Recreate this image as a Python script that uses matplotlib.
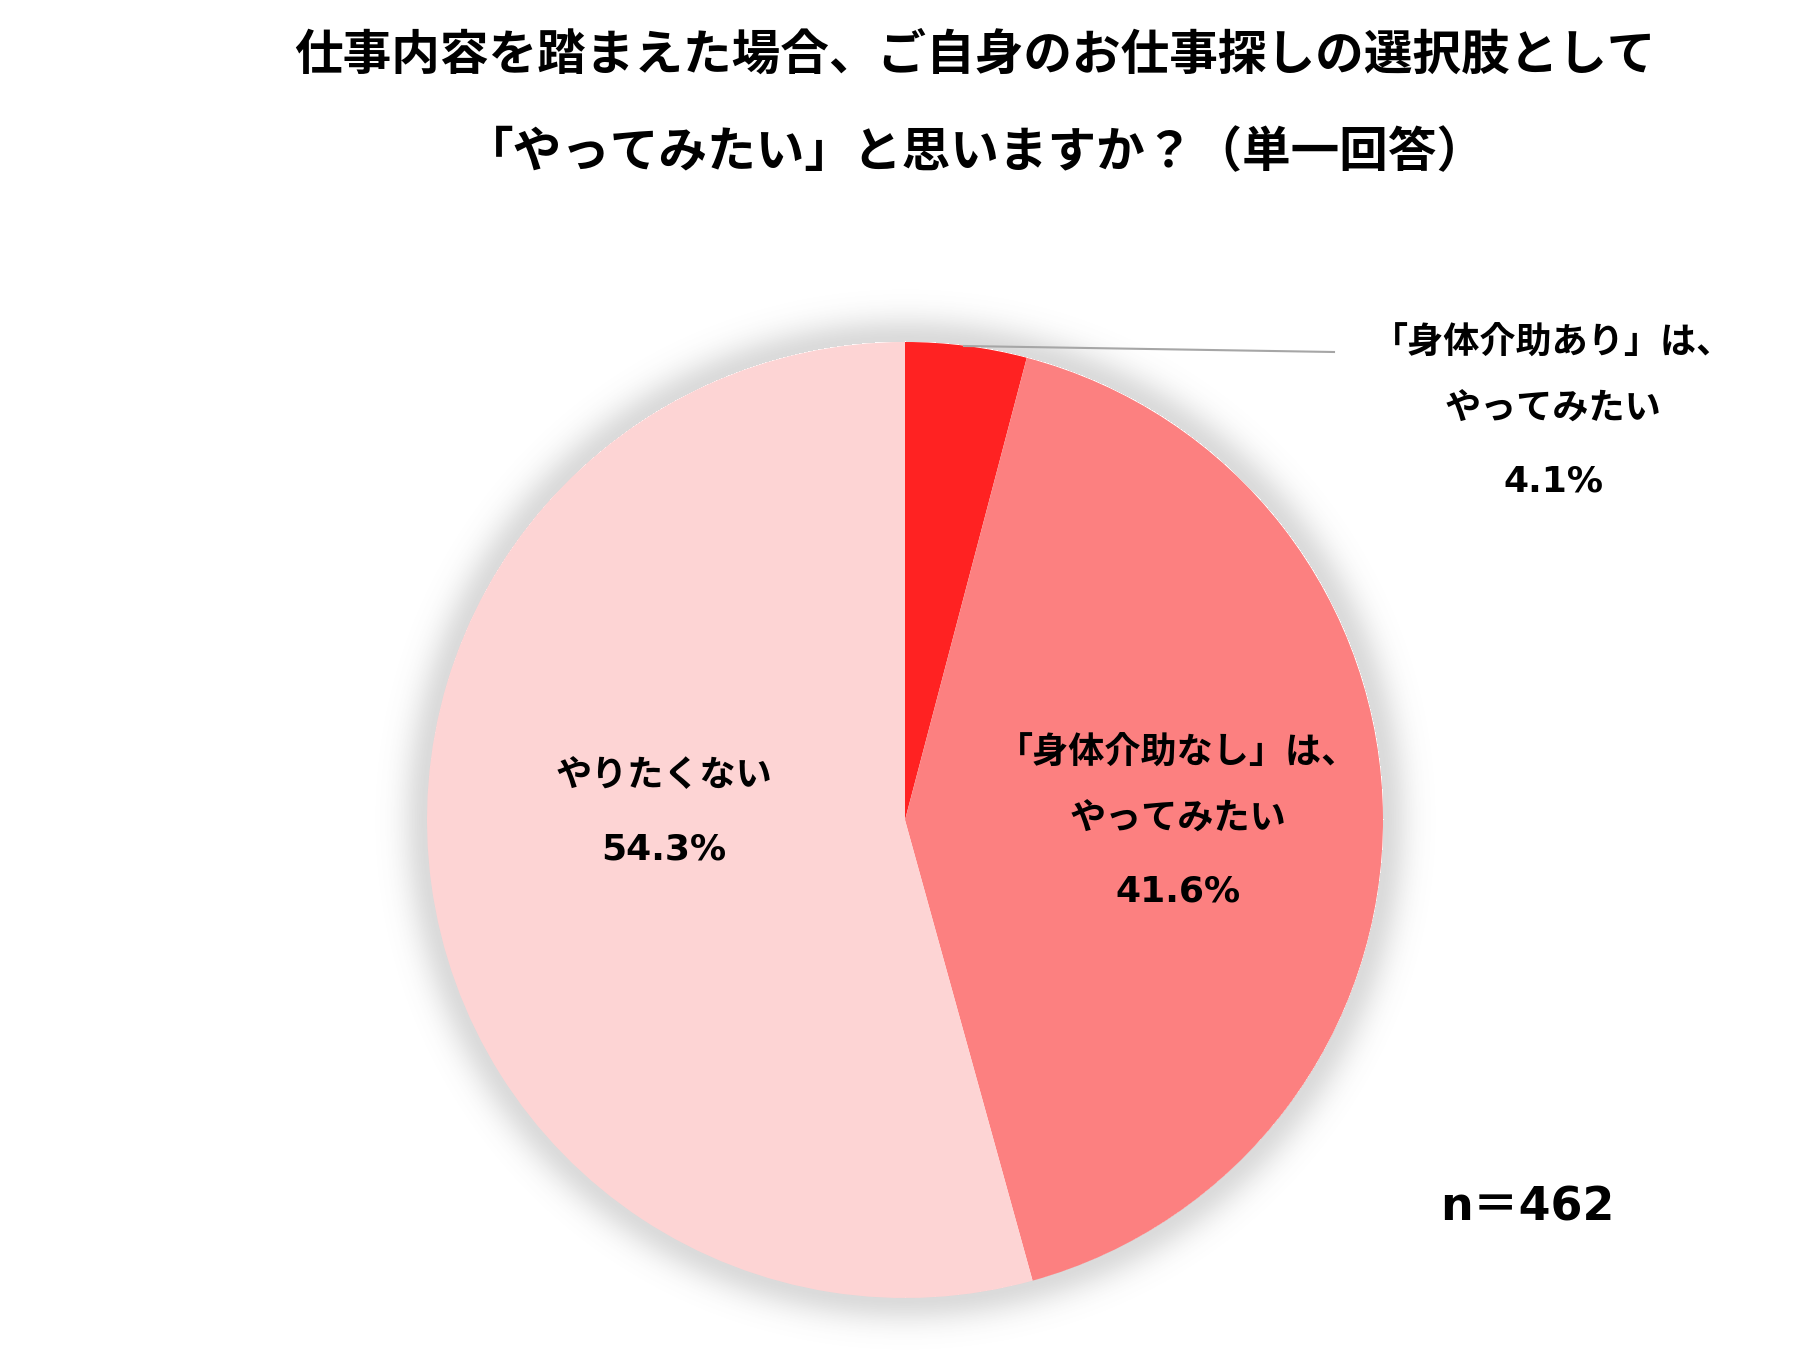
import numpy as np
import matplotlib
matplotlib.use('Agg')
import matplotlib.pyplot as plt

plt.rcParams['font.family'] = ['Noto Sans CJK JP', 'DejaVu Sans']
mixed = ['DejaVu Sans', 'Noto Sans CJK JP']  # wide Verdana-like digits, CJK fallback

# data
labels = ['「身体介助あり」は、\nやってみたい', '「身体介助なし」は、\nやってみたい', 'やりたくない']
values = [4.1, 41.6, 54.3]
colors = ['#FF2222', '#FC8080', '#FDD4D4']
title = '仕事内容を踏まえた場合、ご自身のお仕事探しの選択肢として\n「やってみたい」と思いますか？（単一回答）'
n_text = 'n＝462'

W, H = 1811, 1350
fig = plt.figure(figsize=(W / 100, H / 100), dpi=100)
ax = fig.add_axes([0, 0, 1, 1])

def Y(y):
    # pixel row (top-down) -> axis y (bottom-up)
    return H - y

cx, cy, r = 905, Y(820), 478

# soft shadow around the pie
gx, gy = np.meshgrid(np.arange(W), np.arange(H))
d = np.hypot(gx - cx, gy - cy) - r
shade = np.where(d > 0, np.exp(-(d / 26.0) ** 2) * 0.22, 0.0)
rgba = np.zeros((H, W, 4))
rgba[..., :3] = 0.35
rgba[..., 3] = shade
ax.imshow(rgba, extent=(0, W, 0, H), origin='lower', zorder=0, interpolation='bilinear')

ax.pie(values, colors=colors, startangle=90, counterclock=False,
       center=(cx, cy), radius=r, frame=True,
       wedgeprops=dict(linewidth=0))
ax.set_xlim(0, W)
ax.set_ylim(0, H)
ax.set_aspect('equal')
ax.axis('off')

fig.text(975 / W, 1 - 104 / H, title, ha='center', va='center',
         fontsize=35, fontweight='bold', linespacing=2.25)

# slice labels
lab_kw = dict(ha='center', va='center', fontsize=26, fontweight='bold', linespacing=2.0)
pct_kw = dict(ha='center', va='center', fontsize=26, fontweight='bold', family=mixed)
ax.text(1553, Y(376), labels[0], **lab_kw)
ax.text(1553, Y(482), f'{values[0]}%', **pct_kw)
ax.text(1178, Y(786), labels[1], **lab_kw)
ax.text(1178, Y(892), f'{values[1]}%', **pct_kw)
ax.text(664, Y(776), labels[2], **lab_kw)
ax.text(664, Y(849), f'{values[2]}%', **pct_kw)

# leader line for the small slice
ax.plot([964, 1334], [Y(346), Y(352)], color='#A6A6A6', lw=1.5, zorder=3)

ax.text(1527, Y(1208), n_text, ha='center', va='center', fontsize=33,
        fontweight='bold', family=mixed)

fig.savefig('out.png', dpi=100)
